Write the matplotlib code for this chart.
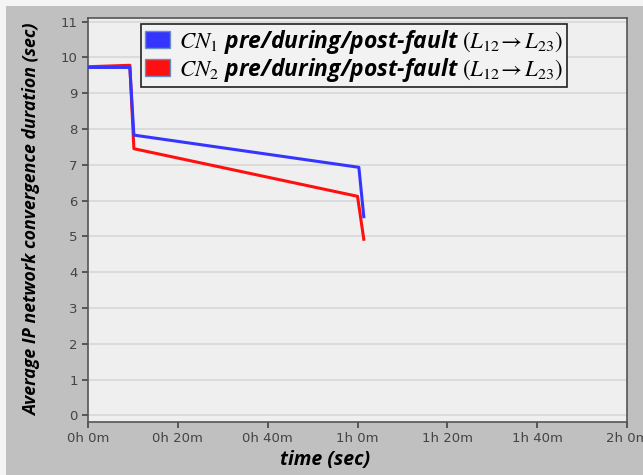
import numpy as np
import matplotlib.pyplot as plt
from matplotlib.patches import Patch, Rectangle

plt.rcParams['mathtext.fontset'] = 'stix'

# time in minutes, convergence duration in seconds
t_cn1 = [0, 9.3, 10.2, 60.3, 61.4]
d_cn1 = [9.72, 9.72, 7.83, 6.93, 5.55]
t_cn2 = [0, 9.3, 10.2, 60.0, 61.4]
d_cn2 = [9.74, 9.78, 7.45, 6.12, 4.92]

x_ticks = [0, 20, 40, 60, 80, 100, 120]
x_labels = ['0h 0m', '0h 20m', '0h 40m', '1h 0m', '1h 20m', '1h 40m', '2h 0m']
y_ticks = list(range(0, 12))

labels = [r'$CN_1$ pre/during/post-fault $(L_{12}\!\rightarrow L_{23})$',
          r'$CN_2$ pre/during/post-fault $(L_{12}\!\rightarrow L_{23})$']
colors = ['#3535ff', '#ff1010']

fig = plt.figure(figsize=(6.43, 4.75), dpi=100, facecolor='#c0c0c0')
# white edge strips along top and left
fig.patches.append(Rectangle((0, 1 - 6/475), 1, 6/475, transform=fig.transFigure,
                             facecolor='#f4f4f4', edgecolor='none'))
fig.patches.append(Rectangle((0, 0), 6/643, 1, transform=fig.transFigure,
                             facecolor='#f4f4f4', edgecolor='none'))

ax = fig.add_axes([0.137, 0.112, 0.838, 0.85])
ax.set_facecolor('#efefef')

# red first so blue sits on top
ax.plot(t_cn2, d_cn2, color=colors[1], lw=2.2, zorder=3)
ax.plot(t_cn1, d_cn1, color=colors[0], lw=2.2, zorder=4)

ax.set_xlim(0, 120)
ax.set_ylim(-0.18, 11.1)
ax.set_xticks(x_ticks)
ax.set_xticklabels(x_labels)
ax.set_yticks(y_ticks)
ax.grid(axis='y', color='#d8d8d8', lw=1.2)
ax.set_axisbelow(True)
ax.tick_params(colors='#444444', labelsize=9.5, length=4, width=1.2, direction='out')
for s in ax.spines.values():
    s.set_color('#555555')
    s.set_linewidth(1.2)

font = dict(family='Open Sans', weight='bold', style='italic')
ax.set_xlabel('time (sec)', fontsize=14, labelpad=2, **font)
ax.xaxis.set_label_coords(0.44, -0.07)
ax.set_ylabel('Average IP network convergence duration (sec)', fontsize=12.8, **font)
ax.yaxis.set_label_coords(-0.088, 0.5)

handles = [Patch(facecolor=c, edgecolor='#6a8fc0') for c in colors]
leg = ax.legend(handles, labels, loc='upper left', bbox_to_anchor=(0.099, 0.985),
                prop=dict(family='Open Sans', weight='bold', style='italic', size=16.5),
                handlelength=1.1, handleheight=0.8, handletextpad=0.4, labelspacing=0.0,
                borderpad=0.15, borderaxespad=0, fancybox=False, framealpha=1,
                facecolor='#f2f2f2', edgecolor='#222222')
leg.get_frame().set_linewidth(1.2)

fig.savefig('out.png', dpi=100, facecolor=fig.get_facecolor())
